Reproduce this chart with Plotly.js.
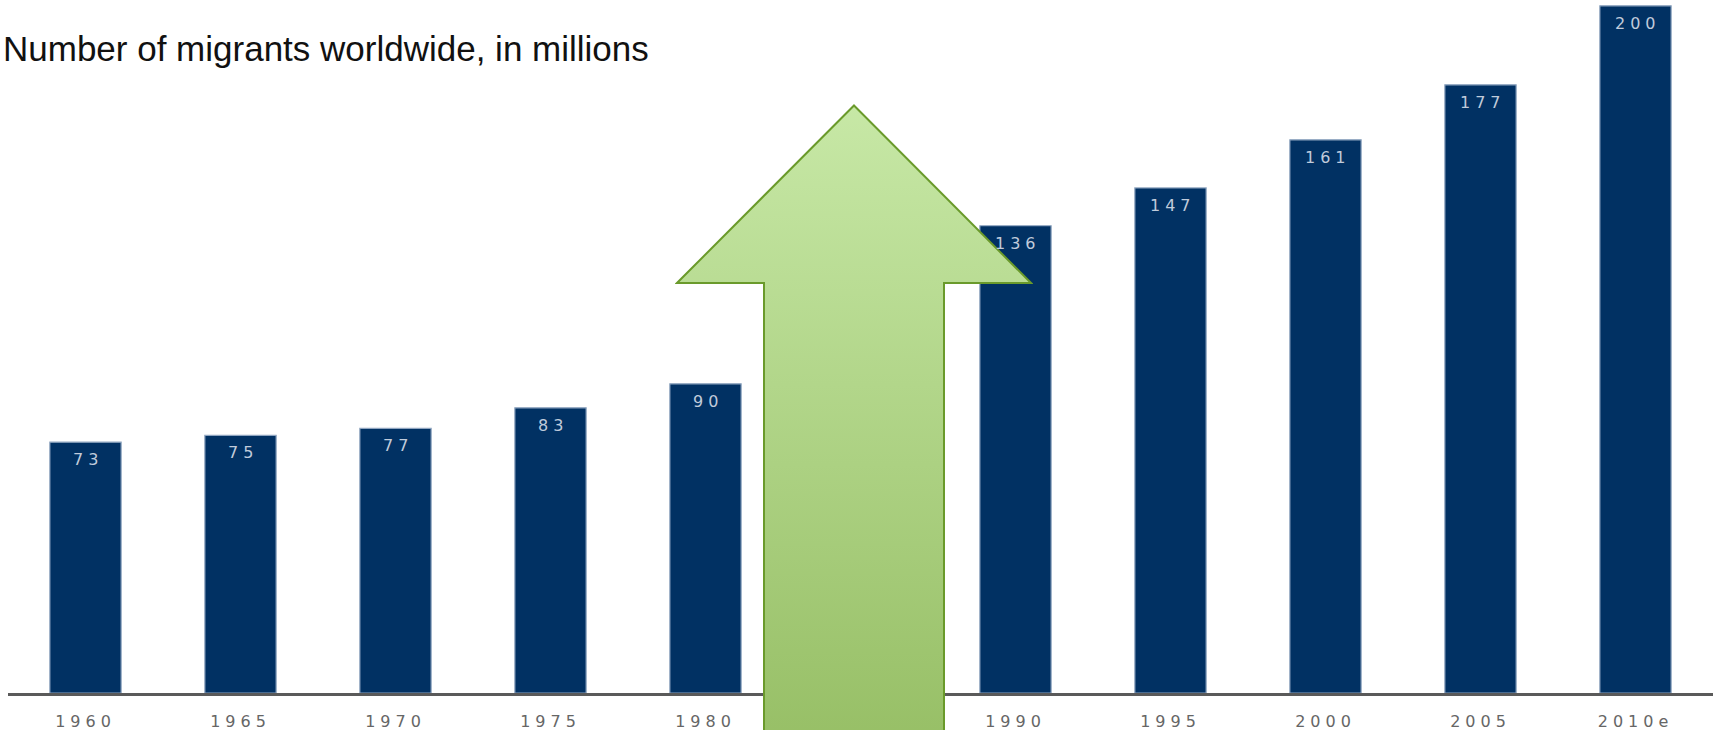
<!DOCTYPE html>
<html>
<head>
<meta charset="utf-8">
<script src="https://cdn.plot.ly/plotly-3.0.1.min.js"></script>
<style>
  html, body { margin: 0; padding: 0; background: #ffffff; }
  #chart { width: 1713px; height: 730px; }
  .xtick text { letter-spacing: 5px; }
  .annotation-text { letter-spacing: 5px; }
</style>
</head>
<body>
<div id="chart"></div>
<script>
// ---- data ----
const years = ['1960', '1965', '1970', '1975', '1980', '1985', '1990', '1995', '2000', '2005', '2010e'];
const migrants = [73, 75, 77, 83, 90, null, 136, 147, 161, 177, 200];
const chartTitle = 'Number of migrants worldwide, in millions';

// ---- value labels inside the top of each bar ----
const labels = [];
years.forEach((y, i) => {
  if (migrants[i] !== null) {
    labels.push({
      x: i, y: migrants[i], xref: 'x', yref: 'y',
      text: String(migrants[i]), showarrow: false,
      yanchor: 'top', xanchor: 'center', yshift: -6, xshift: 2,
      font: { family: 'DejaVu Sans, Arial, sans-serif', size: 16, color: '#c0cbdb' }
    });
  }
});

// ---- decorative green arrow (gradient) as an SVG image ----
const arrowSvg =
  '<svg xmlns="http://www.w3.org/2000/svg" width="358" height="626" viewBox="0 0 358 626" preserveAspectRatio="none">' +
  '<defs><linearGradient id="g" x1="0" y1="0" x2="0" y2="1">' +
  '<stop offset="0" stop-color="#c7e8a6"/><stop offset="1" stop-color="#97bf66"/>' +
  '</linearGradient></defs>' +
  '<path d="M179,1.5 L356,179 L269,179 L269,640 L89,640 L89,179 L2,179 Z" fill="url(#g)" stroke="#6a9a2b" stroke-width="2"/>' +
  '</svg>';
const arrowSrc = 'data:image/svg+xml;charset=utf-8,' + encodeURIComponent(arrowSvg);

const W = 1713, H = 730;
const mL = 8, mB = 37;
const plotW = W - mL, plotH = H - mB;
function px2paperX(px) { return (px - mL) / plotW; }
function px2paperY(py) { return (H - mB - py) / plotH; }

const trace = {
  type: 'bar',
  x: years,
  y: migrants,
  marker: { color: '#013163', line: { color: '#8fa5c0', width: 1.2 } },
  hoverinfo: 'x+y'
};

const layout = {
  width: W, height: H,
  margin: { l: mL, r: 0, t: 0, b: mB, pad: 0 },
  paper_bgcolor: '#ffffff',
  plot_bgcolor: '#ffffff',
  showlegend: false,
  bargap: 0.54,
  title: {
    text: chartTitle,
    x: 3 / W, xref: 'container', xanchor: 'left',
    y: 1 - 49 / H, yref: 'container', yanchor: 'middle',
    font: { family: 'Liberation Sans, Arial, sans-serif', size: 35, color: '#111111' }
  },
  xaxis: {
    type: 'category',
    range: [-0.5, 10.5],
    showgrid: false, zeroline: false,
    showline: true, linecolor: '#5a5a5a', linewidth: 3,
    ticks: '',
    ticklabelstandoff: 12,
    tickfont: { family: 'DejaVu Sans, Arial, sans-serif', size: 16, color: '#666666' },
    fixedrange: true
  },
  yaxis: {
    range: [0, 201.7],
    showgrid: false, zeroline: false, showline: false,
    showticklabels: false, ticks: '',
    fixedrange: true
  },
  annotations: labels,
  images: [{
    source: arrowSrc,
    xref: 'paper', yref: 'paper',
    x: px2paperX(675), y: px2paperY(104),
    sizex: (1033 - 675) / plotW, sizey: (730 - 104) / plotH,
    xanchor: 'left', yanchor: 'top',
    sizing: 'stretch', layer: 'above'
  }]
};

Plotly.newPlot('chart', [trace], layout, { displayModeBar: false, staticPlot: true });
</script>
</body>
</html>
